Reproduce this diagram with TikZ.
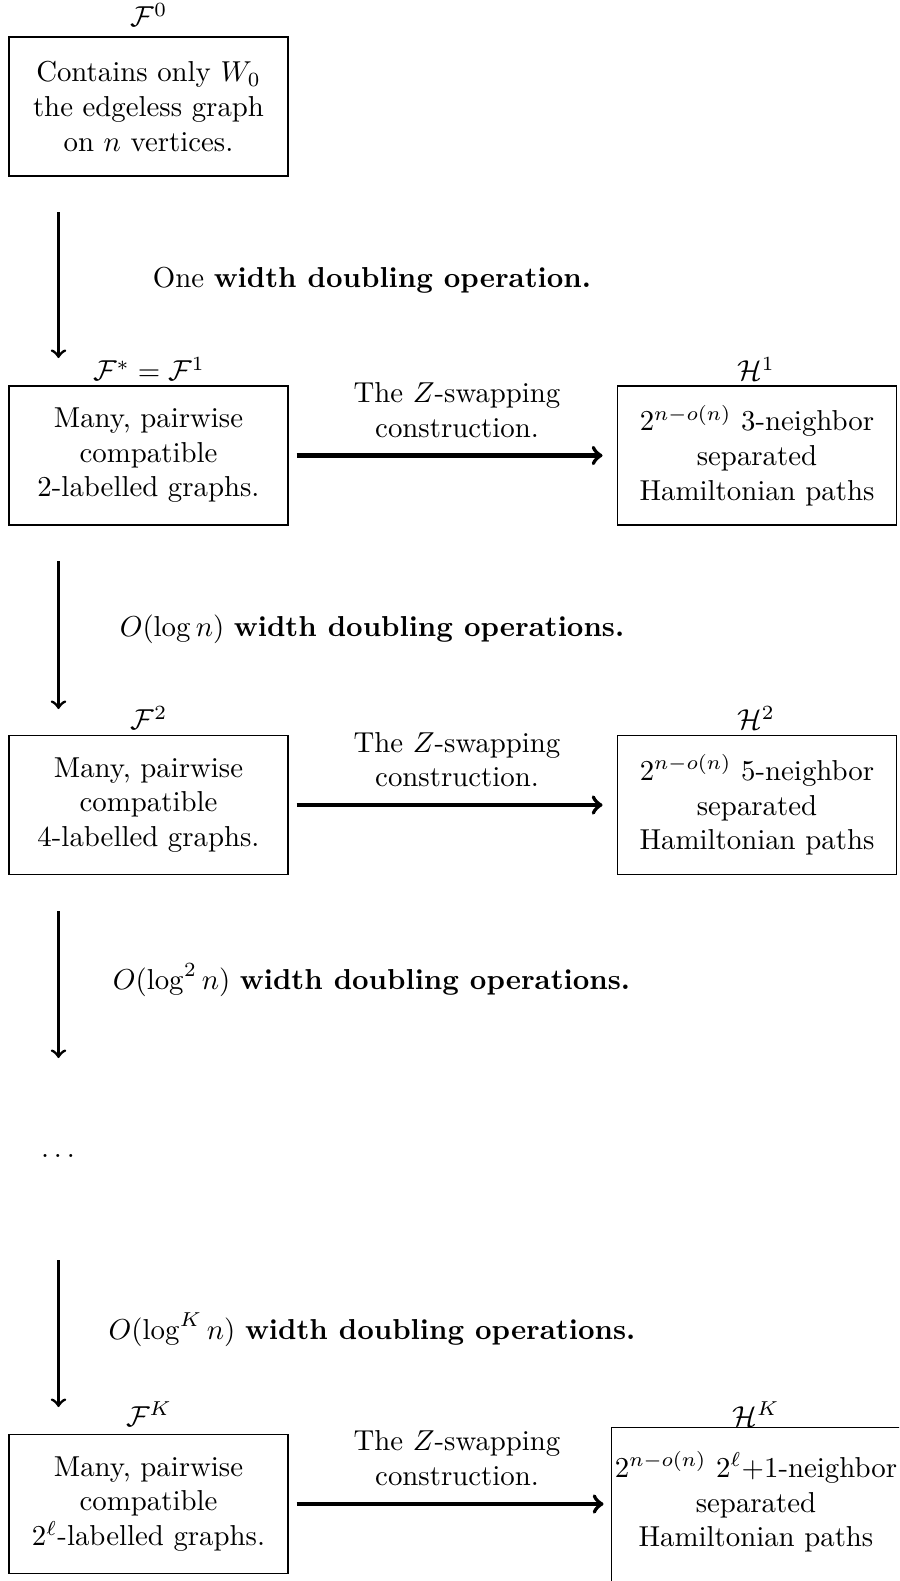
\documentclass[tikz,border=0pt]{standalone}
\usetikzlibrary{calc}
\begin{document}
\begin{tikzpicture}[x=0.347pt,y=-0.347pt,
  box/.style={draw, line width=0.4pt, minimum width=96.8pt, minimum height=48.2pt, inner sep=0pt, align=center},
  plain/.style={inner sep=0pt, align=center},
  arr/.style={->, line width=1pt},
  harr/.style={->, line width=1.4pt, shorten <=2.8pt, shorten >=5pt}]
\clip (0,0) rectangle (899,1581);
\useasboundingbox (0,0) rectangle (899,1581);
% left column
\node[box] (f0) at (148.5,106.5) {Contains only $W_0$\\the edgeless graph\\on $n$ vertices.};
\node[box] (f1) at (148.5,455.5) {Many, pairwise\\compatible\\2-labelled graphs.};
\node[box] (f2) at (148.5,805) {Many, pairwise\\compatible\\4-labelled graphs.};
\node[box] (fK) at (148.5,1504) {Many, pairwise\\compatible\\$2^\ell$-labelled graphs.};
% right column
\node[box] (h1) at (757,455.5) {$2^{n-o(n)}$ 3-neighbor\\separated\\Hamiltonian paths};
\node[box] (h2) at (757,805) {$2^{n-o(n)}$ 5-neighbor\\separated\\Hamiltonian paths};
\node[draw, line width=0.4pt, anchor=north west, minimum width=104pt, minimum height=62pt, inner sep=0pt] (hK) at (611,1427) {};
\node[plain] (hKtext) at (756,1502) {$2^{n-o(n)}$ $2^\ell{+}1$-neighbor\\separated\\Hamiltonian paths};
% labels above boxes
\node[plain] (lf0) at (149,15) {$\mathcal{F}^0$};
\node[plain] (lf1) at (149,369) {$\mathcal{F}^*=\mathcal{F}^1$};
\node[plain] (lh1) at (756,369) {$\mathcal{H}^1$};
\node[plain] (lf2) at (149,718) {$\mathcal{F}^2$};
\node[plain] (lh2) at (756,718) {$\mathcal{H}^2$};
\node[plain] (lfK) at (149,1414) {$\mathcal{F}^K$};
\node[plain] (lhK) at (756,1414) {$\mathcal{H}^K$};
% vertical arrows
\coordinate (a1s) at (58.5,212); \coordinate (a1e) at (58.5,358);
\coordinate (a2s) at (58.5,561); \coordinate (a2e) at (58.5,709);
\coordinate (a3s) at (58.5,911); \coordinate (a3e) at (58.5,1058);
\coordinate (a4s) at (58.5,1260); \coordinate (a4e) at (58.5,1407);
\draw[arr] (a1s) -- (a1e);
\draw[arr] (a2s) -- (a2e);
\draw[arr] (a3s) -- (a3e);
\draw[arr] (a4s) -- (a4e);
\node[plain] (t1) at (372,280) {One \textbf{width doubling operation.}};
\node[plain] (t2) at (372,629) {$O(\log n)$ \textbf{width doubling operations.}};
\node[plain] (t3) at (371.5,980) {$O(\log^2 n)$ \textbf{width doubling operations.}};
\node[plain, anchor=base] (dots) at (58,1157) {$\ldots$};
\node[plain] (t4) at (372,1330) {$O(\log^K n)$ \textbf{width doubling operations.}};
% horizontal arrows
\draw[harr] (f1.east) -- (h1.west);
\draw[harr] (f2.east) -- (h2.west);
\draw[harr, shorten >=2.6pt] (fK.east) -- (fK.east -| hK.west);
\node[plain] (z1) at (457,410) {The $Z$-swapping\\construction.};
\node[plain] (z2) at (457,759.5) {The $Z$-swapping\\construction.};
\node[plain] (zK) at (457,1458) {The $Z$-swapping\\construction.};
\end{tikzpicture}
\end{document}
